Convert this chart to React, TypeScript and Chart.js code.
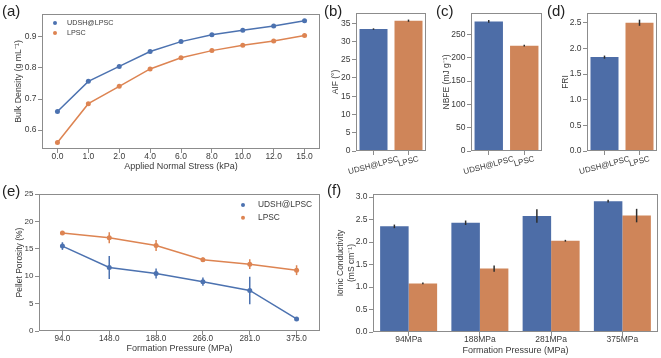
import React, { useEffect, useRef } from 'react';
import { Chart, registerables } from 'chart.js';

Chart.register(...registerables);

const FONT_FAMILY = '"Liberation Sans", Arial, Helvetica, sans-serif';
const TEXT = '#3a3a3a';
const FRAME = '#8c8c8c';
const BLUE = '#4C72B0';
const ORANGE = '#DD8452';
const BLUE_BAR = '#4D6DA7';
const ORANGE_BAR = '#CF8559';
const ERR = '#2e2e2e';

Chart.defaults.font.family = FONT_FAMILY;
Chart.defaults.color = TEXT;

// ---------- (a) Bulk density vs applied normal stress ----------
const stressLabels = ['0.0', '1.0', '2.0', '4.0', '6.0', '8.0', '10.0', '12.0', '15.0'];
const densityUDSH = [0.660, 0.757, 0.805, 0.853, 0.885, 0.907, 0.922, 0.935, 0.952];
const densityLPSC = [0.560, 0.685, 0.741, 0.797, 0.833, 0.856, 0.873, 0.887, 0.905];
const densityTicks = [0.6, 0.7, 0.8, 0.9];

// ---------- (b)(c)(d) powder flow metrics ----------
const samples = ['UDSH@LPSC', 'LPSC'];
const aifValues = [33.4, 35.7];
const aifErrors = [0.2, 0.3];
const aifTicks = [0, 5, 10, 15, 20, 25, 30, 35];
const nbfeValues = [278, 226];
const nbfeErrors = [3, 2];
const nbfeTicks = [0, 50, 100, 150, 200, 250];
const friValues = [1.83, 2.5];
const friErrors = [0.03, 0.06];
const friTicks = [0, 0.5, 1.0, 1.5, 2.0, 2.5];

// ---------- (e) Pellet porosity ----------
const porosityPressures = ['94.0', '148.0', '188.0', '266.0', '281.0', '375.0'];
const porosityUDSH = [15.5, 11.6, 10.5, 9.0, 7.4, 2.2];
const porosityUDSHErr = [0.7, 2.1, 0.9, 0.75, 2.5, 0.3];
const porosityLPSC = [17.9, 17.0, 15.6, 13.0, 12.2, 11.1];
const porosityLPSCErr = [0.2, 1.0, 1.0, 0.4, 0.9, 0.9];
const porosityTicks = [0, 5, 10, 15, 20, 25];

// ---------- (f) Ionic conductivity ----------
const conductivityPressures = ['94MPa', '188MPa', '281MPa', '375MPa'];
const conductivityUDSH = [2.35, 2.43, 2.58, 2.91];
const conductivityUDSHErr = [0.04, 0.05, 0.15, 0.03];
const conductivityLPSC = [1.08, 1.41, 2.03, 2.59];
const conductivityLPSCErr = [0.02, 0.07, 0.02, 0.15];
const conductivityTicks = [0, 0.5, 1.0, 1.5, 2.0, 2.5, 3.0];

// ---------- plugins ----------
const framePlugin = {
  id: 'frame',
  afterDraw(chart: any) {
    const { ctx, chartArea: a } = chart;
    ctx.save();
    ctx.strokeStyle = FRAME;
    ctx.lineWidth = 1;
    ctx.strokeRect(Math.round(a.left) + 0.5, Math.round(a.top) + 0.5, Math.round(a.right - a.left) - 1, Math.round(a.bottom - a.top) - 1);
    ctx.restore();
  },
};

function drawErrors(chart: any) {
  const ctx = chart.ctx;
  const ys = chart.scales.y;
  chart.data.datasets.forEach((ds: any, i: number) => {
    if (!ds.errors) return;
    const meta = chart.getDatasetMeta(i);
    ctx.save();
    ctx.strokeStyle = ds.errorColor || ERR;
    ctx.lineWidth = ds.errorWidth || 1.5;
    meta.data.forEach((el: any, j: number) => {
      const v = ds.data[j];
      const e = ds.errors[j];
      ctx.beginPath();
      ctx.moveTo(el.x, ys.getPixelForValue(v - e));
      ctx.lineTo(el.x, ys.getPixelForValue(v + e));
      ctx.stroke();
    });
    ctx.restore();
  });
}

const errorBarsOverPlugin = {
  id: 'errorBarsOver',
  afterDatasetsDraw(chart: any) {
    drawErrors(chart);
  },
};
const errorBarsUnderPlugin = {
  id: 'errorBarsUnder',
  beforeDatasetsDraw(chart: any) {
    drawErrors(chart);
  },
};

const innerLegendPlugin = {
  id: 'innerLegend',
  afterDraw(chart: any, _args: any, opts: any) {
    const ctx = chart.ctx;
    ctx.save();
    chart.data.datasets.forEach((ds: any, i: number) => {
      const cy = opts.y + i * opts.gap;
      ctx.fillStyle = ds.legendColor || ds.backgroundColor;
      if (opts.marker === 'dot') {
        ctx.beginPath();
        ctx.arc(opts.x, cy, opts.r, 0, Math.PI * 2);
        ctx.fill();
      } else {
        ctx.fillRect(opts.x, cy - opts.h / 2, opts.w, opts.h);
      }
      ctx.fillStyle = TEXT;
      ctx.font = `${opts.size}px ${FONT_FAMILY}`;
      ctx.textAlign = 'left';
      ctx.textBaseline = 'middle';
      ctx.fillText(ds.label, opts.textX, cy);
    });
    ctx.restore();
  },
};

const rotatedTicksPlugin = {
  id: 'rotatedTicks',
  afterDraw(chart: any, _args: any, opts: any) {
    const xs = chart.scales.x;
    const ctx = chart.ctx;
    const th = (opts.angle * Math.PI) / 180;
    ctx.save();
    ctx.font = `${opts.size}px ${FONT_FAMILY}`;
    ctx.fillStyle = TEXT;
    ctx.textAlign = 'center';
    ctx.textBaseline = 'middle';
    xs.ticks.forEach((t: any, i: number) => {
      const label = String(xs.getLabelForValue(t.value));
      const px = xs.getPixelForTick(i);
      const w = ctx.measureText(label).width;
      const h = opts.size;
      const bh = w * Math.sin(th) + h * Math.cos(th);
      const cy = chart.chartArea.bottom + opts.pad + bh / 2;
      ctx.save();
      ctx.translate(px, cy);
      ctx.rotate(-th);
      ctx.fillText(label, 0, 0);
      ctx.restore();
    });
    ctx.restore();
  },
};

// ---------- axis builders ----------
function yAxis(o: {
  min: number; max: number; ticks: number[]; digits: number; title: string | string[];
  titleSize: number; titlePad: number; width: number; tickSize: number;
}) {
  return {
    type: 'linear',
    min: o.min,
    max: o.max,
    afterBuildTicks: (ax: any) => {
      ax.ticks = o.ticks.map((v) => ({ value: v }));
    },
    afterFit: (ax: any) => {
      ax.width = o.width;
    },
    ticks: {
      font: { size: o.tickSize },
      color: TEXT,
      padding: 1.5,
      callback: (v: any) => Number(v).toFixed(o.digits),
    },
    grid: { drawOnChartArea: false, drawTicks: true, tickLength: 4, color: FRAME, lineWidth: 1 },
    border: { display: false },
    title: {
      display: true,
      text: o.title,
      font: { size: o.titleSize },
      color: TEXT,
      padding: { top: o.titlePad, bottom: 0 },
    },
  };
}

function xAxis(o: {
  height: number; showLabels: boolean; tickSize?: number; title?: string; titleSize?: number; titlePad?: number;
}) {
  return {
    type: 'category',
    offset: true,
    afterFit: (ax: any) => {
      ax.height = o.height;
    },
    ticks: {
      display: o.showLabels,
      font: { size: o.tickSize || 8.5 },
      color: TEXT,
      padding: -1,
      maxRotation: 0,
      minRotation: 0,
      autoSkip: false,
    },
    grid: { offset: false, drawOnChartArea: false, drawTicks: true, tickLength: 4, color: FRAME, lineWidth: 1 },
    border: { display: false },
    title: o.title
      ? { display: true, text: o.title, font: { size: o.titleSize || 9 }, color: TEXT, padding: { top: 0, bottom: o.titlePad || 0 } }
      : { display: false },
  };
}

const baseOptions = (padding: any) => ({
  responsive: false,
  maintainAspectRatio: false,
  animation: false,
  devicePixelRatio: 1,
  layout: { padding },
  events: [],
});

// ---------- configs ----------
const configA = () => ({
  type: 'line',
  data: {
    labels: stressLabels,
    datasets: [
      { label: 'UDSH@LPSC', data: densityUDSH, borderColor: BLUE, backgroundColor: BLUE, borderWidth: 1.5, pointRadius: 2.5, pointBorderWidth: 0, tension: 0 },
      { label: 'LPSC', data: densityLPSC, borderColor: ORANGE, backgroundColor: ORANGE, borderWidth: 1.5, pointRadius: 2.5, pointBorderWidth: 0, tension: 0 },
    ],
  },
  options: {
    ...baseOptions({ left: 0, top: 14, right: 16, bottom: 0 }),
    plugins: {
      legend: { display: false },
      tooltip: { enabled: false },
      innerLegend: { x: 55, y: 23, gap: 10, r: 2, marker: 'dot', size: 7.2, textX: 67 },
    },
    scales: {
      x: xAxis({ height: 27, showLabels: true, tickSize: 8.5, title: 'Applied Normal Stress (kPa)', titleSize: 9, titlePad: 4 }),
      y: yAxis({ min: 0.539, max: 0.974, ticks: densityTicks, digits: 1, title: 'Bulk Density (g mL⁻¹)', titleSize: 8.8, titlePad: 13.5, width: 42, tickSize: 8.5 }),
    },
  },
  plugins: [framePlugin, innerLegendPlugin],
});

const barConfig = (values: number[], errors: number[], yo: any, padRight: number) => ({
  type: 'bar',
  data: {
    labels: samples,
    datasets: [
      { label: 'v', data: values, errors, errorColor: ERR, backgroundColor: [BLUE_BAR, ORANGE_BAR], barPercentage: 0.8, categoryPercentage: 1.0, borderWidth: 0 },
    ],
  },
  options: {
    ...baseOptions({ left: 0, top: 13, right: padRight, bottom: 0 }),
    plugins: {
      legend: { display: false },
      tooltip: { enabled: false },
      rotatedTicks: { angle: 15, size: 8, pad: 4 },
    },
    scales: {
      x: xAxis({ height: 34, showLabels: false }),
      y: yAxis(yo),
    },
  },
  plugins: [errorBarsOverPlugin, framePlugin, rotatedTicksPlugin],
});

const configB = () =>
  barConfig(aifValues, aifErrors, { min: 0, max: 37.8, ticks: aifTicks, digits: 0, title: 'AIF (°)', titleSize: 8.5, titlePad: 4.9, width: 30, tickSize: 8.5 }, 6);
const configC = () =>
  barConfig(nbfeValues, nbfeErrors, { min: 0, max: 296, ticks: nbfeTicks, digits: 0, title: 'NBFE (mJ g⁻¹)', titleSize: 8.5, titlePad: 5.9, width: 35, tickSize: 8.5 }, 6);
const configD = () =>
  barConfig(friValues, friErrors, { min: 0, max: 2.69, ticks: friTicks, digits: 1, title: 'FRI', titleSize: 8.5, titlePad: 8.9, width: 35, tickSize: 8.5 }, 4);

const configE = () => ({
  type: 'line',
  data: {
    labels: porosityPressures,
    datasets: [
      { label: 'UDSH@LPSC', data: porosityUDSH, errors: porosityUDSHErr, errorColor: BLUE, borderColor: BLUE, backgroundColor: BLUE, borderWidth: 1.5, pointRadius: 2.5, pointBorderWidth: 0, tension: 0 },
      { label: 'LPSC', data: porosityLPSC, errors: porosityLPSCErr, errorColor: ORANGE, borderColor: ORANGE, backgroundColor: ORANGE, borderWidth: 1.5, pointRadius: 2.5, pointBorderWidth: 0, tension: 0 },
    ],
  },
  options: {
    ...baseOptions({ left: 0, top: 18, right: 16, bottom: 0 }),
    plugins: {
      legend: { display: false },
      tooltip: { enabled: false },
      innerLegend: { x: 243, y: 29, gap: 12.7, r: 2, marker: 'dot', size: 8.4, textX: 258 },
    },
    scales: {
      x: xAxis({ height: 27, showLabels: true, tickSize: 8.2, title: 'Formation Pressure (MPa)', titleSize: 9, titlePad: 4 }),
      y: yAxis({ min: 0, max: 25, ticks: porosityTicks, digits: 0, title: 'Pellet Porosity (%)', titleSize: 8.5, titlePad: 14.9, width: 39, tickSize: 8 }),
    },
  },
  plugins: [errorBarsUnderPlugin, framePlugin, innerLegendPlugin],
});

const configF = () => ({
  type: 'bar',
  data: {
    labels: conductivityPressures,
    datasets: [
      { label: 'UDSH@LPSC', data: conductivityUDSH, errors: conductivityUDSHErr, errorColor: ERR, backgroundColor: BLUE_BAR, categoryPercentage: 0.8, barPercentage: 1.0, borderWidth: 0 },
      { label: 'LPSC', data: conductivityLPSC, errors: conductivityLPSCErr, errorColor: ERR, backgroundColor: ORANGE_BAR, categoryPercentage: 0.8, barPercentage: 1.0, borderWidth: 0 },
    ],
  },
  options: {
    ...baseOptions({ left: 0, top: 18, right: 3, bottom: 0 }),
    plugins: {
      legend: { display: false },
      tooltip: { enabled: false },
      innerLegend: { x: 380, y: 26, gap: 11, w: 13, h: 5, marker: 'box', size: 7.2, textX: 400 },
    },
    scales: {
      x: xAxis({ height: 26, showLabels: true, tickSize: 8.5, title: 'Formation Pressure (MPa)', titleSize: 9, titlePad: 2 }),
      y: yAxis({ min: 0, max: 3.07, ticks: conductivityTicks, digits: 1, title: ['Ionic Conductivity', '(mS cm⁻¹)'], titleSize: 8.5, titlePad: 5.9, width: 43, tickSize: 8.5 }),
    },
  },
  plugins: [errorBarsOverPlugin, framePlugin, innerLegendPlugin],
});

// ---------- components ----------
function ChartPanel(props: { left: number; top: number; width: number; height: number; make: () => any }) {
  const ref = useRef<HTMLCanvasElement | null>(null);
  useEffect(() => {
    if (!ref.current) return;
    const chart = new Chart(ref.current, props.make());
    return () => chart.destroy();
  }, []);
  return (
    <canvas
      ref={ref}
      width={props.width}
      height={props.height}
      style={{ position: 'absolute', left: props.left, top: props.top, width: props.width, height: props.height }}
    />
  );
}

function PanelLabel(props: { text: string; left: number; top: number }) {
  return (
    <div
      style={{
        position: 'absolute',
        left: props.left,
        top: props.top,
        fontFamily: FONT_FAMILY,
        fontSize: 15,
        lineHeight: '15px',
        color: '#222',
        whiteSpace: 'nowrap',
      }}
    >
      {props.text}
    </div>
  );
}

export default function App() {
  return (
    <div style={{ position: 'fixed', left: 0, top: 0, width: 661, height: 358, background: '#ffffff', overflow: 'hidden' }}>
      <ChartPanel left={0} top={0} width={336} height={176} make={configA} />
      <ChartPanel left={326} top={0} width={106} height={185} make={configB} />
      <ChartPanel left={436} top={0} width={112} height={185} make={configC} />
      <ChartPanel left={552} top={0} width={109} height={185} make={configD} />
      <ChartPanel left={0} top={176} width={336} height={182} make={configE} />
      <ChartPanel left={330} top={176} width={331} height={182} make={configF} />
      <PanelLabel text="(a)" left={2} top={3} />
      <PanelLabel text="(b)" left={324} top={3} />
      <PanelLabel text="(c)" left={436} top={3} />
      <PanelLabel text="(d)" left={547} top={3} />
      <PanelLabel text="(e)" left={2} top={183} />
      <PanelLabel text="(f)" left={327} top={182} />
    </div>
  );
}
